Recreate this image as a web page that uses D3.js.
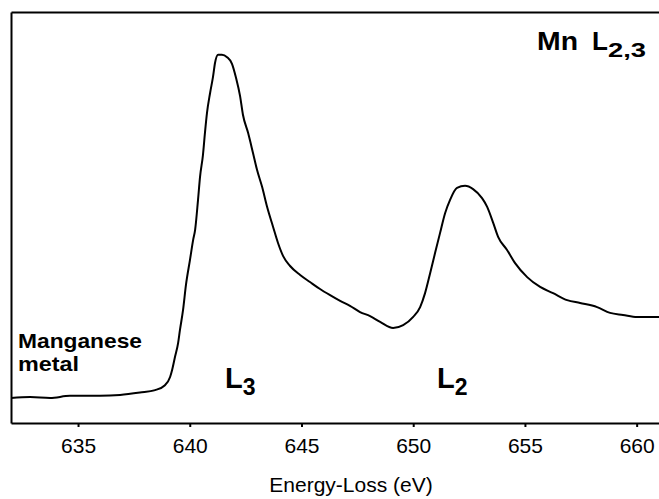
<!DOCTYPE html>
<html>
<head>
<meta charset="utf-8">
<script src="https://cdn.jsdelivr.net/npm/d3@7"></script>
<style>
  body { margin: 0; background: #fff; }
  svg { font-family: "Liberation Sans", Arial, Helvetica, sans-serif; }
  .axis path, .axis line { stroke: #000; stroke-width: 2; }
  .axis text { font-size: 21px; fill: #000; }
  .line { fill: none; stroke: #000; stroke-width: 2; }
</style>
</head>
<body>
<script>
// energy loss (eV)
var energy = [632.00, 632.85, 633.75, 634.64, 635.98, 636.88, 637.77, 638.45, 638.89, 639.12,
    639.21, 639.34, 639.48, 639.56, 639.70, 639.83, 640.01, 640.15, 640.24, 640.37,
    640.46, 640.59, 640.68, 640.77, 640.91, 641.04, 641.13, 641.27, 641.44, 641.67,
    641.89, 642.07, 642.25, 642.38, 642.61, 642.83, 643.01, 643.24, 643.46, 643.73,
    643.95, 644.18, 644.49, 644.94, 645.38, 645.83, 646.28, 646.73, 647.17, 647.62,
    648.07, 648.52, 649.10, 649.55, 650.00, 650.31, 650.53, 650.76, 650.98, 651.20,
    651.43, 651.65, 651.96, 652.32, 652.68, 653.08, 653.31, 653.58, 653.80, 654.20,
    654.56, 655.10, 655.68, 656.26, 656.89, 657.47, 658.23, 658.81, 659.39, 660.02, 661.00];

// intensity, arbitrary units
var counts = [6.1, 6.3, 6.1, 6.6, 6.6, 6.8, 7.4, 8.0, 9.2, 11.2,
    12.9, 16.1, 19.5, 22.6, 27.5, 33.6, 39.7, 44.5, 47.0, 54.3,
    59.9, 65.2, 70.6, 75.4, 80.3, 84.2, 87.6, 89.6, 89.6, 89.0,
    87.4, 84.0, 79.6, 75.0, 70.6, 65.7, 61.6, 57.4, 52.6, 47.7,
    43.8, 40.6, 38.2, 36.0, 34.3, 32.6, 31.1, 29.7, 28.5, 27.0,
    26.0, 24.6, 23.1, 23.8, 25.8, 28.2, 31.6, 36.5, 41.4, 46.2,
    51.1, 54.3, 57.2, 57.7, 56.9, 54.7, 52.6, 48.7, 45.3, 42.1,
    38.9, 35.5, 33.1, 31.6, 29.9, 29.2, 28.2, 26.8, 26.3, 25.8, 25.8];

var xTicks = [635, 640, 645, 650, 655, 660];

var data = energy.map(function(e, i) { return {e: e, c: counts[i]}; });

var margin = {top: 12, right: 0, bottom: 76, left: 11},
    width = 659 - margin.left - margin.right,
    height = 499 - margin.top - margin.bottom;

var x = d3.scaleLinear().domain([632, 661]).range([0, width]);
var y = d3.scaleLinear().domain([0, 100]).range([height, 0]);

var svg = d3.select("body").append("svg")
    .attr("width", 659)
    .attr("height", 499)
  .append("g")
    .attr("transform", "translate(" + margin.left + "," + margin.top + ")");

var valueline = d3.line()
    .x(function(d) { return x(d.e); })
    .y(function(d) { return y(d.c); })
    .curve(d3.curveMonotoneX);

svg.append("path")
    .datum(data)
    .attr("class", "line")
    .attr("d", valueline);

// frame
svg.append("g")
    .attr("class", "axis")
    .call(d3.axisLeft(y).tickValues([]).tickSizeOuter(0));

svg.append("g")
    .attr("class", "axis")
    .call(d3.axisTop(x).tickValues([]).tickSizeOuter(0));

// x axis
svg.append("g")
    .attr("class", "axis")
    .attr("transform", "translate(0," + height + ")")
    .call(d3.axisBottom(x)
        .tickValues(xTicks)
        .tickSize(4)
        .tickSizeOuter(0)
        .tickPadding(11)
        .tickFormat(d3.format("d")));

svg.append("text")
    .attr("x", 351 - margin.left)
    .attr("y", 492 - margin.top)
    .attr("text-anchor", "middle")
    .style("font-size", "21px")
    .text("Energy-Loss (eV)");

// labels
var bold = svg.append("g").style("font-weight", "bold");

bold.append("text")
    .attr("x", 18 - margin.left).attr("y", 348 - margin.top)
    .style("font-size", "21px")
    .attr("textLength", 124).attr("lengthAdjust", "spacingAndGlyphs")
    .text("Manganese");
bold.append("text")
    .attr("x", 18 - margin.left).attr("y", 371 - margin.top)
    .style("font-size", "21px")
    .attr("textLength", 61).attr("lengthAdjust", "spacingAndGlyphs")
    .text("metal");

bold.append("text")
    .attr("x", 537 - margin.left).attr("y", 50 - margin.top)
    .style("font-size", "26px")
    .attr("textLength", 41).attr("lengthAdjust", "spacingAndGlyphs")
    .text("Mn");
bold.append("text")
    .attr("x", 592 - margin.left).attr("y", 50 - margin.top)
    .style("font-size", "26px")
    .text("L");
bold.append("text")
    .attr("x", 608 - margin.left).attr("y", 57 - margin.top)
    .style("font-size", "20px")
    .attr("textLength", 38).attr("lengthAdjust", "spacingAndGlyphs")
    .text("2,3");

var t2 = bold.append("text")
    .attr("x", 225 - margin.left).attr("y", 388 - margin.top)
    .style("font-size", "29px");
t2.append("tspan").text("L");
t2.append("tspan").attr("dy", 7).style("font-size", "23px").text("3");

var t3 = bold.append("text")
    .attr("x", 437 - margin.left).attr("y", 388 - margin.top)
    .style("font-size", "29px");
t3.append("tspan").text("L");
t3.append("tspan").attr("dy", 7).style("font-size", "23px").text("2");
</script>
</body>
</html>
